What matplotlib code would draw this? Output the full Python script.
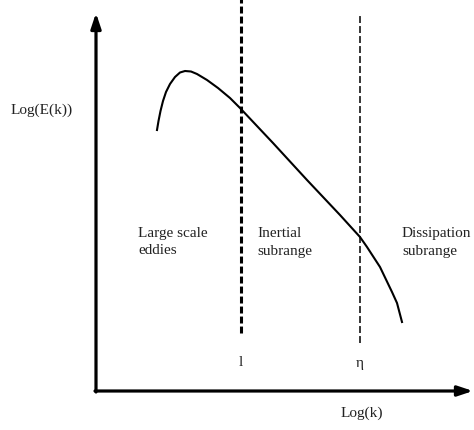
import matplotlib.pyplot as plt
import numpy as np

plt.rcParams['font.family'] = ['Liberation Serif', 'DejaVu Serif']
plt.rcParams['lines.scale_dashes'] = False

# energy spectrum curve, log(k) vs log(E(k)) in arbitrary units
logk = [61, 62.5, 64.5, 67, 70, 74, 79, 84, 89, 95, 101, 111, 122, 134, 144,
        177, 211, 244, 264, 271, 284, 296, 301, 306]
logE = [261, 270, 280, 290, 299, 307, 314, 318.5, 320, 319.5, 317, 311, 303, 293, 283,
        248, 211, 176, 154, 144, 124, 99, 88, 69]

# subrange boundaries
k_l = 145
k_eta = 264

regions = ['Large scale\neddies', 'Inertial\nsubrange', 'Dissipation\nsubrange']
region_x = [42, 161, 306]

fig = plt.figure(figsize=(4.74, 4.30), dpi=100)
ax = fig.add_axes([0, 0, 1, 1])
ax.set_xlim(-96, 378)
ax.set_ylim(-39, 391)
ax.axis('off')

# axes with arrows
ax.annotate('', xy=(0, 378), xytext=(0, -1),
            arrowprops=dict(arrowstyle='-|>,head_length=0.9,head_width=0.3',
                            lw=2.3, color='black', shrinkA=0, shrinkB=0))
ax.annotate('', xy=(377, 0), xytext=(-1, 0),
            arrowprops=dict(arrowstyle='-|>,head_length=0.9,head_width=0.3',
                            lw=2.3, color='black', shrinkA=0, shrinkB=0))

ax.plot(logk, logE, color='black', lw=1.5, solid_joinstyle='round')

l1, = ax.plot([k_l, k_l], [58, 395], color='black', lw=2.2)
l1.set_dashes([5, 2.2])
l2, = ax.plot([k_eta, k_eta], [48, 377], color='black', lw=1.1)
l2.set_dashes([5, 2.2])

fs = 11
for txt, x in zip(regions, region_x):
    ax.text(x, 164, txt, fontsize=fs, ha='left', va='top', color='#222222',
            linespacing=1.45)

ax.text(k_l, 28, 'l', fontsize=fs, ha='center', va='center', color='#222222')
ax.text(k_eta, 27, 'η', fontsize=fs, ha='center', va='center', color='#222222')
ax.text(-54, 281, 'Log(E(k))', fontsize=fs, ha='center', va='center', color='#222222')
ax.text(266, -22, 'Log(k)', fontsize=fs, ha='center', va='center', color='#222222')

fig.savefig('out.png', dpi=100)
